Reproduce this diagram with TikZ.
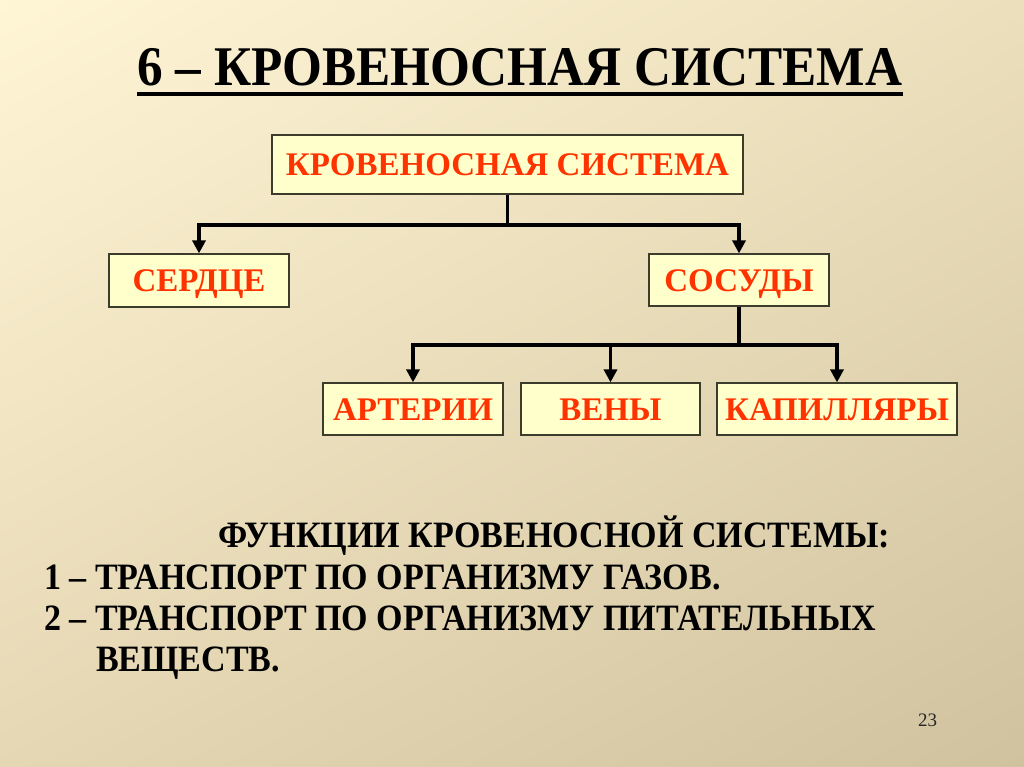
\documentclass[tikz,border=0pt]{standalone}
\usepackage{fontspec}
\setmainfont{Liberation Serif}
\newfontfamily\condfont{Liberation Serif}[FakeStretch=0.915]
\usetikzlibrary{arrows.meta,shadings}
\definecolor{bgA}{RGB}{255,246,214}
\definecolor{bgB}{RGB}{236,223,188}
\definecolor{bgC}{RGB}{230,215,180}
\definecolor{bgD}{RGB}{208,194,158}
\definecolor{boxfill}{RGB}{255,255,204}
\definecolor{boxline}{RGB}{60,60,45}
\definecolor{boxtext}{RGB}{255,51,0}
\tikzset{
  box/.style={draw=boxline, line width=1.2pt, fill=boxfill, text=boxtext,
    font=\fontsize{33}{40}\selectfont\bfseries, inner sep=0pt,
    text height=22pt, text depth=0pt, minimum height=52pt},
  conn/.style={line width=3.5pt, draw=black},
  arr/.style={conn, -{Triangle[width=13pt,length=13pt]}},
  body/.style={anchor=base west, font=\condfont\fontsize{37.2}{44}\selectfont\bfseries, inner sep=0pt}
}
\begin{document}
\begin{tikzpicture}[x=1pt,y=-1pt]
\useasboundingbox (0,0) rectangle (1024,767);
\shade[upper left=bgA, upper right=bgB, lower left=bgC, lower right=bgD] (0,0) rectangle (1024,767);

% title
\node[anchor=base west, inner sep=0pt, font=\condfont\fontsize{56}{66}\selectfont\bfseries] (title) at (137,86) {6 – КРОВЕНОСНАЯ СИСТЕМА};
\draw[line width=3.2pt] (137,94) -- (903,94);

% boxes
\node[box, minimum width=471pt, minimum height=59pt] (top) at (507.5,164.5) {КРОВЕНОСНАЯ СИСТЕМА};
\node[box, minimum width=180pt, minimum height=53pt] (serdce) at (199,280.5) {СЕРДЦЕ};
\node[box, minimum width=180pt] (sosudy) at (739,280) {СОСУДЫ};
\node[box, minimum width=180pt] (arterii) at (413,409) {АРТЕРИИ};
\node[box, minimum width=179pt] (veny) at (610.5,409) {ВЕНЫ};
\node[box, minimum width=240pt] (kapil) at (837,409) {КАПИЛЛЯРЫ};

% connectors
\coordinate (bus1) at (507.5,225);
\coordinate (bus2) at (739,345);
\draw[conn] (top.south) -- (bus1);
\draw[arr] (bus1) -| (serdce.north);
\draw[arr] (bus1) -| (sosudy.north);
\draw[conn] (sosudy.south) -- (bus2);
\draw[arr] (bus2) -| (arterii.north);
\draw[arr] (bus2) -| (veny.north);
\draw[arr] (bus2) -| (kapil.north);

% functions text
\node[body] (f0) at (218,547) {ФУНКЦИИ КРОВЕНОСНОЙ СИСТЕМЫ:};
\node[body] (f1) at (44,589) {1 – ТРАНСПОРТ ПО ОРГАНИЗМУ ГАЗОВ.};
\node[body] (f2) at (44,630) {2 – ТРАНСПОРТ ПО ОРГАНИЗМУ ПИТАТЕЛЬНЫХ};
\node[body] (f3) at (96,671) {ВЕЩЕСТВ.};

% page number
\node[anchor=base west, inner sep=0pt, font=\fontsize{19}{22}\selectfont, text=black!85] (pg) at (918,726) {23};
\end{tikzpicture}
\end{document}
